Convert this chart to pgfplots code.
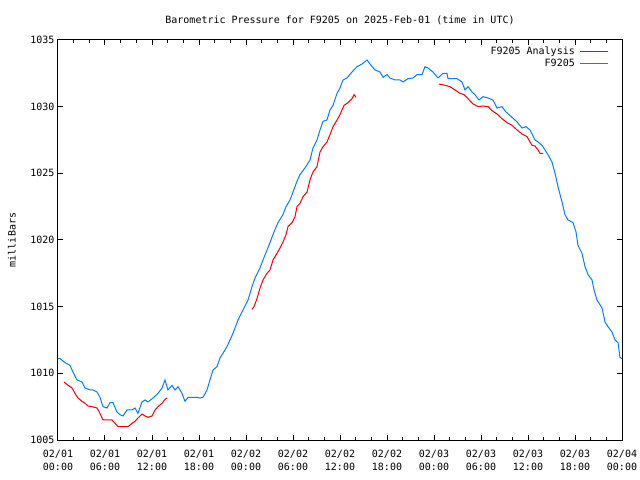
\documentclass[border=0pt]{standalone}
\usepackage{pgfplots}
\pgfplotsset{compat=1.18}
\usepackage{fontspec}
\setmainfont{DejaVu Sans Mono}
\newcommand{\myfont}{\fontsize{10bp}{13bp}\selectfont}
\definecolor{gpred}{RGB}{255,0,0}
\definecolor{gpblue}{RGB}{0,128,255}
\begin{document}
\myfont
\begin{tikzpicture}
\useasboundingbox (-58bp,-40bp) rectangle (582bp,440bp);
\begin{axis}[
  scale only axis, width=564bp, height=400bp,
  xmin=0, xmax=72, ymin=1005, ymax=1035,
  axis line style={line width=1bp},
  every tick/.style={black, line width=1bp},
  tick align=inside,
  major tick length=5bp, minor tick length=3bp,
  xtick={0,6,...,72},
  minor x tick num=2,
  xticklabels={{02/01\\00:00},{02/01\\06:00},{02/01\\12:00},{02/01\\18:00},{02/02\\00:00},{02/02\\06:00},{02/02\\12:00},{02/02\\18:00},{02/03\\00:00},{02/03\\06:00},{02/03\\12:00},{02/03\\18:00},{02/04\\00:00}},
  xticklabel style={align=center, font=\myfont, yshift=-7bp},
  ytick={1005,1010,...,1035},
  yticklabel style={font=\myfont, /pgf/number format/1000 sep={}, /pgf/number format/assume math mode=true},
  title={Barometric Pressure for F9205 on 2025-Feb-01 (time in UTC)},
  title style={font=\myfont, at={(axis description cs:0.5,1)}, anchor=center, yshift=14bp},
  ylabel={milliBars},
  ylabel style={font=\myfont, at={(axis description cs:-0.0816,0.5)}, anchor=center},
  legend style={draw=none, fill=none, font=\myfont, at={(axis description cs:1,1)}, anchor=north east, xshift=-10bp, yshift=-3bp, row sep=-1bp, column sep=3bp},
  legend cell align=right,
  legend plot pos=right,
  legend image code/.code={\draw[#1] (0bp,0bp) -- (28bp,0bp);},
  unbounded coords=jump,
]
\addplot[gpred, line width=1bp] coordinates {
(0.77,1009.35) (1.28,1009.1) (1.79,1008.9) (2.17,1008.5) (2.55,1008.15) (3.06,1007.9) (3.45,1007.75) (3.83,1007.55) (4.34,1007.5) (4.98,1007.4) (5.36,1007.0) (5.74,1006.5) (6.26,1006.5) (6.89,1006.5) (7.28,1006.25) (7.66,1006.0) (8.30,1006.0) (8.94,1006.0) (9.45,1006.25) (9.83,1006.4) (10.21,1006.65) (10.72,1006.95) (11.11,1006.8) (11.49,1006.7) (12.0,1006.8) (12.38,1007.25) (12.77,1007.5) (13.28,1007.75) (13.66,1008.05) (13.91,1008.15)
(14.5,nan)
(24.77,1014.8) (25.02,1015.0) (25.40,1015.6) (25.79,1016.4) (26.17,1017.0) (26.68,1017.5) (27.06,1017.75) (27.45,1018.5) (27.96,1019.0) (28.34,1019.4) (28.72,1019.85) (29.11,1020.4) (29.36,1021.0) (29.87,1021.3) (30.26,1021.75) (30.51,1022.5) (30.89,1022.75) (31.28,1023.25) (31.79,1023.6) (32.17,1024.5) (32.55,1025.1) (33.06,1025.5) (33.45,1026.6) (33.83,1027.0) (34.34,1027.35) (34.72,1027.9) (35.11,1028.5) (35.62,1029.0) (36.00,1029.4) (36.51,1030.1) (37.02,1030.3) (37.53,1030.6) (37.79,1030.9) (38.04,1030.7)
(40,nan)
(48.64,1031.7) (49.40,1031.6) (50.04,1031.5) (50.68,1031.25) (51.32,1031.0) (51.83,1030.9) (52.34,1030.6) (52.98,1030.2) (53.62,1030.0) (54.26,1030.05) (54.89,1030.0) (55.40,1029.7) (56.04,1029.45) (56.68,1029.1) (57.32,1028.8) (57.96,1028.6) (58.60,1028.25) (59.23,1027.95) (59.87,1027.75) (60.51,1027.1) (60.89,1027.05) (61.28,1026.75) (61.53,1026.5) (61.91,1026.5)
};
\addlegendentry{F9205 Analysis}
\addplot[gpblue, line width=1bp] coordinates {
(0.0,1011.1) (0.26,1011.1) (0.89,1010.8) (1.53,1010.6) (1.91,1010.1) (2.43,1009.5) (3.06,1009.35) (3.45,1008.9) (4.09,1008.75) (4.47,1008.75) (4.98,1008.6) (5.36,1008.2) (5.74,1007.5) (6.26,1007.4) (6.64,1007.8) (7.02,1007.8) (7.53,1007.1) (7.91,1006.9) (8.30,1006.8) (8.81,1007.25) (9.45,1007.25) (9.83,1007.4) (10.21,1007.0) (10.72,1007.85) (11.11,1008.0) (11.49,1007.85) (12.13,1008.15) (12.77,1008.5) (13.28,1008.9) (13.66,1009.5) (14.04,1008.75) (14.55,1009.1) (14.94,1008.75) (15.32,1009.0) (15.83,1008.5) (16.21,1007.9) (16.60,1008.2) (17.23,1008.2) (17.74,1008.2) (18.13,1008.15) (18.51,1008.2) (19.02,1008.75) (19.40,1009.5) (19.79,1010.25) (20.30,1010.5) (20.68,1011.15) (21.06,1011.5) (21.57,1012.0) (21.96,1012.5) (22.34,1013.0) (22.98,1014.0) (23.62,1014.75) (24.26,1015.5) (24.77,1016.5) (25.15,1017.15) (25.79,1017.9) (26.17,1018.5) (26.68,1019.25) (27.06,1019.8) (27.57,1020.6) (28.09,1021.3) (28.72,1021.9) (29.11,1022.5) (29.62,1023.0) (30.00,1023.6) (30.51,1024.4) (30.89,1024.9) (31.53,1025.4) (32.17,1026.0) (32.55,1026.9) (33.06,1027.5) (33.45,1028.25) (33.83,1028.9) (34.34,1029.0) (34.72,1029.75) (35.11,1030.1) (35.62,1031.0) (36.00,1031.4) (36.38,1032.0) (36.89,1032.15) (37.53,1032.6) (38.17,1033.0) (38.81,1033.2) (39.45,1033.5) (39.83,1033.2) (40.47,1032.75) (41.11,1032.6) (41.49,1032.2) (42.00,1032.4) (42.38,1032.15) (43.02,1032.0) (43.66,1032.0) (44.04,1031.85) (44.68,1032.1) (45.32,1032.15) (45.83,1032.4) (46.47,1032.4) (46.85,1033.0) (47.23,1032.9) (47.87,1032.6) (48.51,1032.15) (49.15,1032.5) (49.66,1032.5) (49.79,1032.1) (50.94,1032.1) (51.57,1031.85) (51.96,1031.25) (52.34,1031.5) (52.85,1031.1) (53.23,1030.9) (53.74,1030.5) (54.26,1030.75) (54.89,1030.65) (55.53,1030.5) (56.04,1029.9) (56.68,1030.0) (57.19,1029.6) (57.96,1029.2) (58.60,1028.85) (59.23,1028.4) (59.74,1028.5) (60.26,1028.25) (60.89,1027.5) (61.28,1027.35) (61.79,1027.1) (62.17,1026.75) (62.55,1026.4) (63.06,1025.85) (63.45,1025.0) (63.83,1024.0) (64.34,1022.85) (64.72,1021.9) (65.11,1021.5) (65.74,1021.3) (66.13,1020.6) (66.38,1019.6) (66.89,1019.0) (67.28,1018.0) (67.66,1017.4) (68.17,1017.0) (68.43,1016.25) (68.81,1015.5) (69.45,1014.9) (69.83,1013.85) (70.21,1013.5) (70.72,1013.1) (71.11,1012.5) (71.49,1012.3) (71.74,1011.2) (72.0,1011.1)
};
\addlegendentry{F9205}
\end{axis}
\end{tikzpicture}
\end{document}
